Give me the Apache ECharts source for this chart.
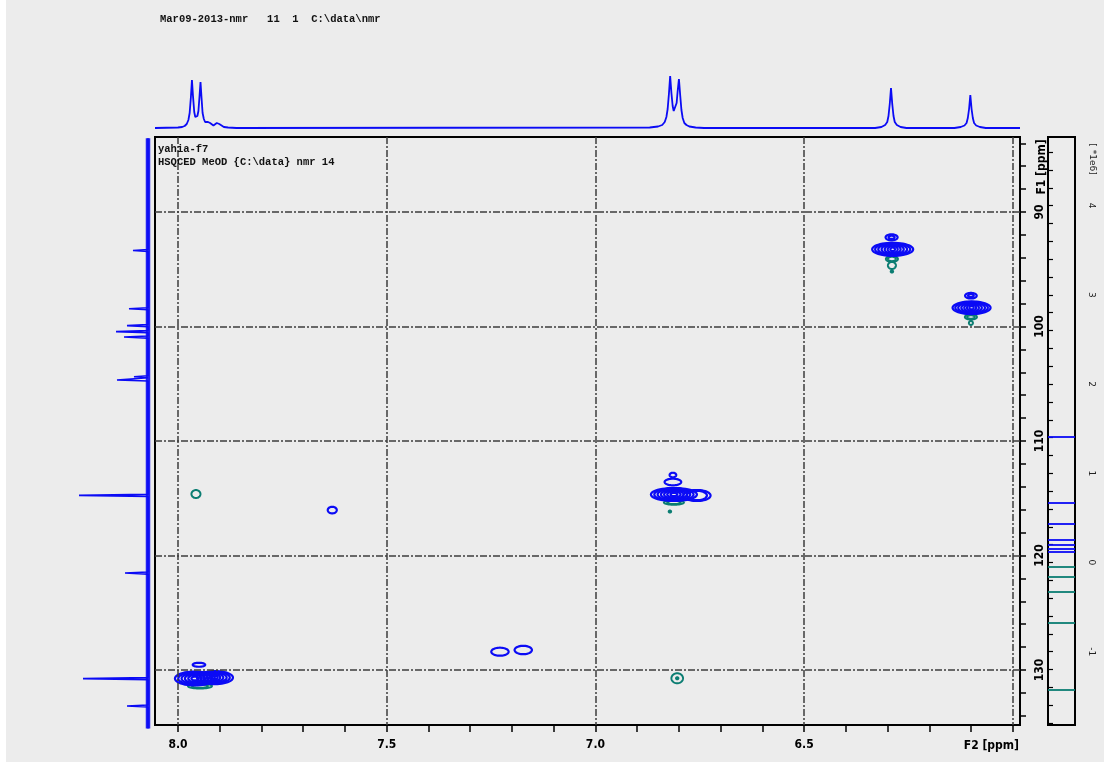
<!DOCTYPE html>
<html>
<head>
<meta charset="utf-8">
<script src="https://cdn.jsdelivr.net/npm/echarts@6/dist/echarts.min.js"></script>
<style>
  html, body { margin: 0; padding: 0; background: #ffffff; }
  #chart { width: 1112px; height: 767px; }
</style>
</head>
<body>
<div id="chart"></div>
<script>
// ---- axes -------------------------------------------------------------
const f2Range = [5.983, 8.055];            // 1H, ppm (drawn right-to-left)
const f1Range = [83.45, 134.8];            // 13C, ppm (drawn top-to-bottom)
const f2LabelValues = [8.0, 7.5, 7.0, 6.5];
const f2TickValues = [6.0, 6.1, 6.2, 6.3, 6.4, 6.5, 6.6, 6.7, 6.8, 6.9, 7.0,
                      7.1, 7.2, 7.3, 7.4, 7.5, 7.6, 7.7, 7.8, 7.9, 8.0];
const f1LabelValues = [90, 100, 110, 120, 130];
const f1TickValues = [84, 86, 88, 90, 92, 94, 96, 98, 100, 102, 104, 106, 108, 110,
                      112, 114, 116, 118, 120, 122, 124, 126, 128, 130, 132, 134];
const f2GridLines = [8.0, 7.5, 7.0, 6.5, 6.0];
const f1GridLines = [90, 100, 110, 120, 130];

// ---- contour level bar (x 1e6) ----------------------------------------
const levelRange = [-1.822, 4.77];
const levelLabelValues = [-1, 0, 1, 2, 3, 4];
const levelTickValues = [-1.8, -1.6, -1.4, -1.2, -1.0, -0.8, -0.6, -0.4, -0.2, 0,
                         0.2, 0.4, 0.6, 0.8, 1.0, 1.2, 1.4, 1.6, 1.8, 2.0, 2.2, 2.4,
                         2.6, 2.8, 3.0, 3.2, 3.4, 3.6, 3.8, 4.0, 4.2, 4.4, 4.6];
const positiveLevels = [1.41, 0.67, 0.43, 0.26, 0.20, 0.15, 0.12];
const negativeLevels = [-0.05, -0.16, -0.33, -0.68, -1.43];

// ---- 1H projection: [ppm, intensity] ---------------------------------
const protonTrace = [
  [8.055, 0], [8.000, 0.5], [7.990, 1], [7.984, 2], [7.979, 4], [7.975, 8], [7.972, 15],
  [7.969, 31], [7.9665, 48], [7.964, 32], [7.961, 16], [7.9585, 11], [7.956, 10],
  [7.9535, 12], [7.951, 17], [7.9485, 31], [7.946, 46], [7.9435, 30], [7.941, 15],
  [7.938, 9], [7.935, 6], [7.931, 5], [7.928, 6], [7.926, 7], [7.923, 5], [7.919, 3],
  [7.915, 2.5], [7.911, 3.5], [7.907, 5], [7.904, 6], [7.901, 4], [7.897, 2],
  [7.890, 1], [7.880, 0.5], [7.860, 0],
  [6.870, 0.5], [6.850, 1.5], [6.840, 3], [6.834, 6], [6.830, 11], [6.827, 19],
  [6.824, 34], [6.821, 52], [6.818, 35], [6.815, 22], [6.8125, 17], [6.8105, 16],
  [6.808, 18], [6.8055, 25], [6.803, 37], [6.800, 49], [6.797, 33], [6.794, 18],
  [6.791, 10], [6.787, 5], [6.782, 3], [6.775, 1.5], [6.760, 0.5], [6.740, 0],
  [6.330, 0], [6.315, 1], [6.306, 3], [6.301, 6], [6.298, 12], [6.295, 24], [6.292, 40],
  [6.289, 24], [6.286, 12], [6.283, 6], [6.278, 3], [6.269, 1], [6.255, 0],
  [6.140, 0], [6.125, 1], [6.116, 2.5], [6.111, 5], [6.108, 10], [6.105, 19], [6.102, 33],
  [6.099, 19], [6.096, 10], [6.093, 5], [6.088, 2.5], [6.079, 1], [6.065, 0],
  [5.983, 0]
];

// ---- 13C projection lines: [ppm, intensity] ---------------------------
const carbonLines = [
  [93.36, 15], [98.45, 19], [99.92, 21], [100.45, 32], [100.92, 24],
  [104.39, 14], [104.67, 31], [114.75, 69], [121.53, 23], [130.75, 65], [133.14, 21]
];

// ---- HSQC contours: [F2 ppm, F1 ppm, half-width ppm, half-height ppm] --
const positiveContours = [
  // 6.29 / 93.3
  [6.288, 93.26, 0.0491, 0.568], [6.288, 93.26, 0.0420, 0.530], [6.288, 93.26, 0.0345, 0.490],
  [6.288, 93.26, 0.0265, 0.440], [6.288, 93.26, 0.0190, 0.380], [6.288, 93.26, 0.0120, 0.290],
  [6.288, 93.26, 0.0055, 0.160],
  [6.2906, 92.21, 0.0144, 0.262], [6.2906, 92.21, 0.0072, 0.140],
  // 6.10 / 98.4
  [6.099, 98.36, 0.0455, 0.550], [6.099, 98.36, 0.0390, 0.510], [6.099, 98.36, 0.0320, 0.465],
  [6.099, 98.36, 0.0245, 0.410], [6.099, 98.36, 0.0175, 0.350], [6.099, 98.36, 0.0110, 0.270],
  [6.099, 98.36, 0.0050, 0.150],
  [6.1006, 97.31, 0.0139, 0.245], [6.1006, 97.31, 0.0068, 0.130],
  // 6.81 / 114.7
  [6.812, 114.67, 0.0551, 0.568], [6.812, 114.67, 0.0470, 0.530], [6.812, 114.67, 0.0390, 0.490],
  [6.812, 114.67, 0.0310, 0.420], [6.812, 114.67, 0.0235, 0.340], [6.812, 114.67, 0.0160, 0.260],
  [6.812, 114.67, 0.0080, 0.150],
  [6.757, 114.76, 0.0328, 0.480], [6.757, 114.76, 0.0240, 0.410],
  [6.8144, 113.58, 0.0199, 0.288], [6.8144, 112.97, 0.0079, 0.201],
  // 7.95 / 130.7
  [7.9593, 130.74, 0.0479, 0.611], [7.9593, 130.74, 0.0400, 0.545], [7.9593, 130.74, 0.0320, 0.470],
  [7.9593, 130.74, 0.0240, 0.393], [7.9593, 130.74, 0.0160, 0.300], [7.9593, 130.74, 0.0085, 0.170],
  [7.9114, 130.66, 0.0431, 0.568], [7.9114, 130.66, 0.0355, 0.500], [7.9114, 130.66, 0.0280, 0.430],
  [7.9114, 130.66, 0.0200, 0.350], [7.9114, 130.66, 0.0125, 0.260], [7.9114, 130.66, 0.0065, 0.150],
  [7.9497, 129.54, 0.0149, 0.175],
  // weak cross peaks
  [7.6304, 116.03, 0.0108, 0.288],
  [7.2287, 128.40, 0.0208, 0.349],
  [7.1729, 128.25, 0.0208, 0.367]
];
const negativeContours = [
  [6.2898, 94.10, 0.0144, 0.262], [6.2898, 94.10, 0.0095, 0.190], [6.2898, 94.67, 0.0096, 0.306],
  [6.2898, 95.20, 0.0029, 0.087],
  [6.1006, 99.17, 0.0144, 0.218], [6.1006, 99.17, 0.0090, 0.150], [6.1006, 99.69, 0.0048, 0.175],
  [6.812, 115.37, 0.0240, 0.192], [6.812, 115.37, 0.0160, 0.140], [6.8216, 116.16, 0.0029, 0.087],
  [7.9473, 131.40, 0.0287, 0.218], [7.9473, 131.40, 0.0190, 0.150],
  [6.8041, 130.72, 0.0139, 0.437], [6.8041, 130.72, 0.0029, 0.087],
  [7.9569, 114.63, 0.0108, 0.349]
];

// ---- header texts ----------------------------------------------------
const headerText = 'Mar09-2013-nmr   11  1  C:\\data\\nmr';
const titleLines = ['yahia-f7', 'HSQCED MeOD {C:\\data} nmr 14'];
const f2Name = 'F2 [ppm]';
const f1Name = 'F1 [ppm]';
const levelName = '[ *1e6]';

// ---- styling ---------------------------------------------------------
const BLUE = '#0b0bf5';
const TEAL = '#0b7d72';
const GRID_DASH = '#3c3c3c';
const NARROW = "'Liberation Sans Narrow','DejaVu Sans Condensed','Arial Narrow',sans-serif";
const MONO = "'Liberation Mono','DejaVu Sans Mono',monospace";

// 13C projection path: baseline with a thin spike at each line
const carbonTrace = [];
carbonLines.forEach(([ppm, h]) => {
  carbonTrace.push([0, ppm - 0.09], [h, ppm], [0, ppm + 0.09]);
});

function ellipseItem(color, width) {
  return function (params, api) {
    const c = api.coord([api.value(0), api.value(1)]);
    const s = api.size([api.value(2), api.value(3)]);
    const rx = Math.abs(s[0]), ry = Math.abs(s[1]);
    const pts = [];
    for (let i = 0; i < 48; i++) {
      const a = (i / 48) * Math.PI * 2;
      pts.push([c[0] + rx * Math.cos(a), c[1] + ry * Math.sin(a)]);
    }
    return {
      type: 'polygon',
      shape: { points: pts },
      style: { fill: 'none', stroke: color, lineWidth: width }
    };
  };
}

const frame = { left: 155, top: 137, width: 865, height: 588 };

const chart = echarts.init(document.getElementById('chart'), null, { renderer: 'canvas' });

const option = {
  animation: false,
  backgroundColor: 'transparent',
  grid: [
    // main 2D plane
    { left: frame.left, top: frame.top, width: frame.width, height: frame.height,
      show: true, borderColor: '#000', borderWidth: 2, backgroundColor: 'transparent' },
    // 1H projection
    { left: frame.left, top: 60, width: frame.width, height: 77, show: false },
    // 13C projection
    { left: 55, top: frame.top, width: 100, height: frame.height, show: false },
    // contour level bar
    { left: 1048, top: frame.top, width: 27, height: frame.height,
      show: true, borderColor: '#000', borderWidth: 2, backgroundColor: 'transparent' }
  ],
  xAxis: [
    { gridIndex: 0, type: 'value', inverse: true, min: f2Range[0], max: f2Range[1],
      axisLine: { show: true, onZero: false, lineStyle: { color: '#000', width: 2 } },
      axisTick: { show: true, inside: false, length: 7, customValues: f2TickValues,
                  lineStyle: { color: '#000', width: 1.5 } },
      axisLabel: { show: true, customValues: f2LabelValues, margin: 14,
                   formatter: v => v.toFixed(1),
                   color: '#000', fontFamily: NARROW, fontWeight: 'bold', fontSize: 12 },
      splitLine: { show: false } },
    { gridIndex: 1, type: 'value', inverse: true, min: f2Range[0], max: f2Range[1], show: false },
    { gridIndex: 2, type: 'value', inverse: true, min: -7, max: 93, show: false },
    { gridIndex: 3, type: 'value', min: 0, max: 1, show: false }
  ],
  yAxis: [
    { gridIndex: 0, type: 'value', inverse: true, position: 'right', min: f1Range[0], max: f1Range[1],
      axisLine: { show: true, onZero: false, lineStyle: { color: '#000', width: 2 } },
      axisTick: { show: true, inside: false, length: 6, customValues: f1TickValues,
                  lineStyle: { color: '#000', width: 1.5 } },
      axisLabel: { show: true, customValues: f1LabelValues, rotate: 90, margin: 14,
                   color: '#000', fontFamily: NARROW, fontWeight: 'bold', fontSize: 12 },
      splitLine: { show: false } },
    { gridIndex: 1, type: 'value', min: -9, max: 68, show: false },
    { gridIndex: 2, type: 'value', inverse: true, min: f1Range[0], max: f1Range[1], show: false },
    { gridIndex: 3, type: 'value', position: 'right', min: levelRange[0], max: levelRange[1],
      axisLine: { show: false },
      axisTick: { show: true, inside: false, length: 5, customValues: levelTickValues,
                  lineStyle: { color: '#000', width: 1.2 } },
      axisLabel: { show: true, customValues: levelLabelValues, rotate: -90, margin: 12,
                   color: '#222', fontFamily: "'DejaVu Sans',sans-serif", fontSize: 9 },
      splitLine: { show: false } }
  ],
  series: [
    // dash-dot reference grid on the 2D plane
    { type: 'line', xAxisIndex: 0, yAxisIndex: 0, data: [], silent: true,
      markLine: {
        silent: true, symbol: ['none', 'none'], label: { show: false },
        lineStyle: { color: GRID_DASH, width: 1.5, type: [7, 2, 2, 2] },
        data: f2GridLines.map(v => ({ xAxis: v })).concat(f1GridLines.map(v => ({ yAxis: v })))
      } },
    // positive contours
    { type: 'custom', xAxisIndex: 0, yAxisIndex: 0, clip: true, silent: true,
      renderItem: ellipseItem(BLUE, 2.2), encode: { x: 0, y: 1 }, data: positiveContours, z: 3 },
    // negative contours
    { type: 'custom', xAxisIndex: 0, yAxisIndex: 0, clip: true, silent: true,
      renderItem: ellipseItem(TEAL, 2.0), encode: { x: 0, y: 1 }, data: negativeContours, z: 2 },
    // 1H projection
    { type: 'line', xAxisIndex: 1, yAxisIndex: 1, data: protonTrace, showSymbol: false,
      symbol: 'none', silent: true, lineStyle: { color: BLUE, width: 1.8 } },
    // 13C projection baseline
    { type: 'line', xAxisIndex: 2, yAxisIndex: 2, data: [[0, f1Range[0] + 0.1], [0, f1Range[1] + 0.3]],
      symbol: 'none', silent: true, clip: false, lineStyle: { color: BLUE, width: 4.5, opacity: 0.9 } },
    // 13C projection lines
    { type: 'line', xAxisIndex: 2, yAxisIndex: 2,
      data: [[0, f1Range[0] + 0.1]].concat(carbonTrace, [[0, f1Range[1] + 0.3]]),
      symbol: 'none', silent: true, clip: false, lineStyle: { color: BLUE, width: 1.6 } },
    // contour levels in the bar
    { type: 'line', xAxisIndex: 3, yAxisIndex: 3, data: [], silent: true,
      markLine: {
        silent: true, symbol: ['none', 'none'], label: { show: false },
        data: positiveLevels.map(v => ({ yAxis: v, lineStyle: { color: BLUE, width: 1.8, type: 'solid' } }))
          .concat(negativeLevels.map(v => ({ yAxis: v, lineStyle: { color: TEAL, width: 1.8, type: 'solid' } })))
      } }
  ],
  graphic: [
    { type: 'rect', z: -10, silent: true, shape: { x: 6, y: 0, width: 1098, height: 762 },
      style: { fill: '#ececec' } },
    { type: 'text', left: 160, top: 14, silent: true,
      style: { text: headerText, fill: '#111', font: 'bold 10.5px ' + MONO } },
    { type: 'text', left: 158, top: 143, silent: true, z: 10,
      style: { text: titleLines.join('\n'), fill: '#111', font: 'bold 10.5px ' + MONO, lineHeight: 13 } },
    { type: 'text', x: 1019, y: 746, silent: true,
      style: { text: f2Name, fill: '#000', font: 'bold 12px ' + NARROW, align: 'right', verticalAlign: 'middle' } },
    { type: 'text', x: 1042, y: 167, rotation: Math.PI / 2, silent: true,
      style: { text: f1Name, fill: '#000', font: 'bold 12px ' + NARROW, align: 'center', verticalAlign: 'middle' } },
    { type: 'text', x: 1092, y: 159, rotation: -Math.PI / 2, silent: true,
      style: { text: levelName, fill: '#222', font: '9px DejaVu Sans', align: 'center', verticalAlign: 'middle' } }
  ]
};

chart.setOption(option);
</script>
</body>
</html>
